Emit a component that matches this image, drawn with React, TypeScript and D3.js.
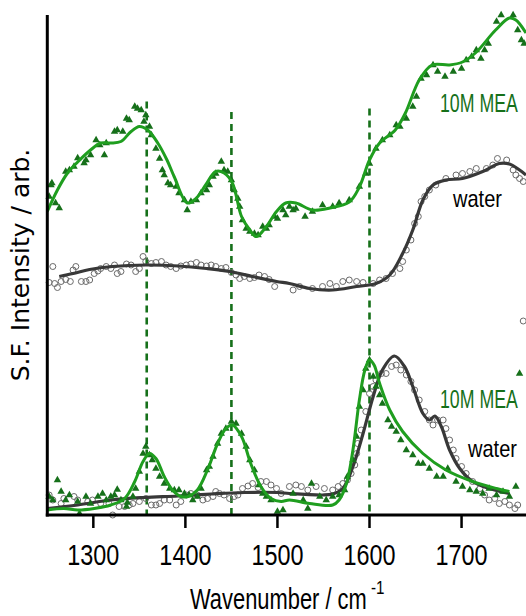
import React from 'react';
import * as d3 from 'd3';

// [wavenumber, intensity] — upper 10M MEA spectrum
const meaTopFit = [
  [1250, 60.7], [1261, 65], [1272, 68.4], [1283, 70.6], [1297, 73], [1308, 74.4], [1319, 74.4],
  [1330, 74.7], [1341, 76.7], [1350, 77.7], [1359, 77], [1370, 74.4], [1380, 71], [1388, 67.6],
  [1402, 62.4], [1412, 63.4], [1422, 66], [1433, 68.7], [1442, 68.4], [1451, 66.4], [1461, 59.7],
  [1470, 57], [1477, 55.7], [1488, 57.7], [1499, 60.7], [1509, 62.4], [1520, 62.4], [1538, 61],
  [1557, 61.4], [1578, 62.6], [1589, 65.6], [1600, 71], [1611, 74.4], [1628, 77], [1639, 80.4],
  [1654, 87], [1668, 90], [1687, 90], [1701, 90.6], [1715, 92.4], [1737, 97], [1752, 99.4],
  [1759, 99], [1770, 96.4],
];
const meaTopPts = [
  [1252, 63.7], [1254, 66], [1255, 66.4], [1259, 62.4], [1263, 61.4], [1270, 68.7], [1274, 69],
  [1279, 69.7], [1283, 71.4], [1290, 70.4], [1292, 71], [1297, 72], [1303, 75], [1307, 74],
  [1312, 72], [1314, 74.4], [1323, 76.7], [1326, 77], [1332, 76.7], [1336, 79.3], [1339, 79],
  [1345, 81.7], [1348, 81.3], [1352, 81], [1357, 80], [1355, 78.7], [1361, 77.7], [1363, 76],
  [1368, 73.3], [1372, 71.3], [1375, 69], [1377, 68], [1381, 66.4], [1384, 66], [1390, 65.7],
  [1393, 64.4], [1399, 63], [1402, 61], [1406, 62.7], [1412, 63], [1417, 64.4], [1423, 65],
  [1426, 66], [1430, 67.7], [1433, 68.3], [1439, 70.7], [1442, 69], [1446, 68.7], [1450, 67],
  [1453, 65], [1457, 63.3], [1459, 61.7], [1462, 59], [1466, 57.3], [1470, 56.7], [1475, 56.3],
  [1479, 56], [1484, 57.7], [1488, 57.3], [1491, 58], [1497, 59.7], [1500, 59.3], [1506, 61],
  [1509, 60], [1513, 61.7], [1517, 61], [1520, 61.3], [1530, 59.7], [1538, 60.7], [1549, 62],
  [1560, 61.7], [1567, 62.4], [1578, 63], [1589, 65.7], [1596, 68.3], [1600, 70.3], [1607, 73.3],
  [1614, 75], [1622, 76], [1629, 78], [1633, 77.7], [1640, 79.3], [1647, 81.7], [1651, 83.7],
  [1656, 87.3], [1662, 88], [1669, 90], [1674, 88.7], [1682, 87.7], [1691, 88.7], [1700, 89.3],
  [1705, 91], [1711, 91.7], [1716, 93], [1721, 91.3], [1725, 93], [1729, 94.3], [1738, 98.7],
  [1743, 100], [1756, 100], [1761, 97], [1765, 95], [1768, 94.3],
];

// upper water spectrum
const waterTopFit = [
  [1263, 47.7], [1278, 48.3], [1296, 49.1], [1321, 49.7], [1357, 50], [1393, 49.8], [1423, 49.3],
  [1448, 48.7], [1473, 47.7], [1499, 46.7], [1513, 46.3], [1535, 45.3], [1560, 45], [1586, 45.7],
  [1607, 46.3], [1622, 48], [1636, 52.3], [1647, 57], [1658, 63], [1669, 66], [1683, 67],
  [1701, 67.3], [1723, 68.7], [1741, 70.3], [1752, 70.2], [1763, 69], [1770, 68],
];
const waterTopPts = [
  [1252, 46.5], [1256, 49.7], [1258, 46.3], [1261, 45.5], [1265, 46.7], [1270, 47.1], [1275, 46.7],
  [1278, 49], [1281, 49.7], [1287, 46.7], [1292, 46.7], [1296, 47], [1301, 48.3], [1305, 48.8],
  [1308, 49.3], [1314, 49.7], [1319, 49.3], [1323, 50], [1326, 48.3], [1330, 48.7], [1336, 50.2],
  [1341, 50], [1346, 48.7], [1350, 49.3], [1354, 51.7], [1357, 50.7], [1363, 50.3], [1368, 50.5],
  [1374, 50.7], [1379, 50], [1384, 49.7], [1390, 49.3], [1395, 49.8], [1401, 50], [1406, 50.2],
  [1412, 50.5], [1417, 50], [1423, 49.8], [1428, 50], [1433, 49.7], [1439, 49.3], [1444, 49.5],
  [1450, 48.5], [1455, 48], [1459, 47.3], [1464, 47.7], [1470, 47.3], [1475, 47.5], [1480, 48],
  [1486, 47.7], [1491, 47.1], [1497, 45.7], [1517, 45], [1524, 45.7], [1538, 45.3], [1549, 45.7],
  [1557, 46.3], [1564, 45.7], [1571, 46.7], [1578, 47], [1586, 46.7], [1593, 46.5], [1604, 46.3],
  [1611, 47], [1618, 47.3], [1625, 48.3], [1633, 49.3], [1636, 50.7], [1640, 53], [1645, 55],
  [1649, 58.3], [1653, 59.7], [1656, 62.7], [1660, 63.7], [1665, 65], [1672, 66], [1683, 67.3],
  [1694, 68], [1701, 68.3], [1709, 68.7], [1716, 69.3], [1727, 69.3], [1734, 70], [1739, 71.3],
  [1749, 71], [1756, 69], [1759, 68], [1763, 67.3], [1767, 66.7], [1767, 38.8],
];

// lower 10M MEA spectrum
const meaBotFit = [
  [1250, 1], [1268, 1.3], [1283, 1], [1301, 1.3], [1319, 2], [1334, 3.3], [1345, 6.7], [1354, 10.7],
  [1361, 12.3], [1368, 11.3], [1377, 7.7], [1386, 5], [1395, 3.7], [1403, 3.7], [1413, 5], [1424, 9],
  [1435, 14.3], [1444, 17.3], [1451, 18], [1461, 15.7], [1471, 10.3], [1482, 5.7], [1493, 3.3],
  [1504, 2.7], [1513, 3], [1535, 2.3], [1560, 2], [1567, 3], [1575, 6.3], [1582, 13], [1589, 23],
  [1595, 29], [1600, 31], [1605, 30], [1611, 26.3], [1622, 21], [1636, 16.7], [1658, 12.3],
  [1683, 9], [1712, 6.7], [1738, 5.3], [1752, 4.7],
];
const meaBotPts = [
  [1252, 3.7], [1256, 3], [1261, 7], [1265, 4.7], [1270, 3], [1274, 4], [1283, 2.7], [1285, 0.3],
  [1292, 3.7], [1297, 2.3], [1305, 3.7], [1310, 4.3], [1314, 3], [1319, 3.7], [1323, 4], [1326, 5.1],
  [1330, 3], [1336, 1.7], [1337, 2.5], [1343, 3.7], [1346, 5.3], [1350, 8.7], [1354, 12.3],
  [1357, 13.7], [1361, 12], [1364, 11], [1368, 9.3], [1372, 7.7], [1377, 6.3], [1383, 5.3],
  [1388, 5], [1393, 5], [1399, 4.3], [1404, 4], [1408, 3], [1413, 3.7], [1417, 5.3], [1423, 9],
  [1426, 9.7], [1430, 11.7], [1435, 14.3], [1439, 16.3], [1444, 17.3], [1450, 18.7], [1455, 18.3],
  [1461, 16.3], [1466, 13.7], [1470, 11], [1475, 9], [1480, 6], [1484, 4.3], [1488, 3.7], [1493, 3],
  [1500, 0.7], [1506, 1], [1517, 4.3], [1528, 3], [1533, 1.3], [1537, 6.3], [1546, 3.7], [1553, 3],
  [1560, 3.7], [1567, 4], [1573, 5], [1576, 7.7], [1582, 11], [1586, 15.7], [1589, 21.7],
  [1593, 25], [1596, 29.3], [1600, 31], [1604, 27.7], [1607, 25.7], [1611, 24], [1614, 22.3],
  [1620, 19], [1624, 17.7], [1629, 16.7], [1634, 15], [1640, 13], [1647, 12], [1653, 10.3],
  [1658, 10.3], [1665, 9.3], [1673, 7.7], [1680, 7.7], [1685, 9.3], [1694, 6.7], [1701, 5.7],
  [1709, 5], [1716, 4.7], [1723, 4.3], [1730, 5.3], [1738, 4], [1745, 4.7], [1752, 3.7],
  [1759, 5.7], [1763, 28.3],
];

// lower water spectrum
const waterBotFit = [
  [1250, 1.3], [1283, 2], [1319, 3], [1355, 3.5], [1392, 3.8], [1428, 4.2], [1464, 4.5], [1500, 4.5],
  [1513, 4.3], [1549, 4], [1560, 4.2], [1571, 5.3], [1582, 9.7], [1593, 16.3], [1604, 23.7],
  [1614, 29], [1627, 31.8], [1638, 29.7], [1647, 25.7], [1658, 20.3], [1665, 19], [1671, 19.8],
  [1678, 17.7], [1687, 13], [1698, 9.3], [1712, 6.7], [1730, 5.3], [1752, 4.3],
];
const waterBotPts = [
  [1252, 4], [1256, 3], [1265, 2.3], [1268, 3.3], [1279, 3.7], [1283, 3], [1294, 2.7], [1299, 3],
  [1308, 2.3], [1317, 2.3], [1321, 0], [1328, 1.7], [1334, 1.7], [1339, 2], [1343, 2.3], [1350, 2.7],
  [1357, 3.3], [1363, 2], [1368, 2], [1372, 2.3], [1377, 3], [1383, 3], [1390, 2], [1395, 2.7],
  [1401, 4], [1406, 4.3], [1413, 4], [1419, 3], [1424, 3.3], [1430, 3.7], [1433, 4.7], [1437, 4.3],
  [1442, 4], [1448, 3.3], [1453, 3.7], [1457, 4], [1462, 5.3], [1468, 5.8], [1473, 6.3], [1479, 5.5],
  [1482, 6.7], [1488, 6.7], [1493, 6], [1499, 5.3], [1504, 4.3], [1513, 5.7], [1520, 6], [1526, 5.7],
  [1533, 5], [1542, 5.7], [1551, 5.3], [1560, 5], [1566, 5.7], [1571, 6.3], [1576, 7], [1580, 8.3],
  [1584, 10], [1586, 12.3], [1587, 14.3], [1591, 17], [1596, 20.7], [1600, 24.3], [1604, 25.7],
  [1607, 27], [1613, 28.3], [1618, 28.3], [1624, 29.7], [1629, 30], [1634, 29], [1640, 28],
  [1645, 26.7], [1649, 25], [1654, 23], [1660, 20.7], [1665, 19], [1669, 18], [1674, 19], [1680, 19],
  [1683, 17.3], [1687, 15], [1691, 13], [1694, 11.3], [1700, 9.7], [1705, 8.3], [1712, 6.7],
  [1720, 5.3], [1725, 4], [1730, 3], [1736, 3.3], [1741, 2.3], [1747, 2.7], [1752, 2], [1758, 1.3],
  [1761, 2],
];

const xTicks = [1300, 1400, 1500, 1600, 1700];
const markerLines = [1358, 1450, 1600];
const markerTops = [82.7, 80.6, 81.3];

const W = 526;
const H = 616;
const GREEN_LINE = '#1f9e1f';
const GREEN_DARK = '#16701a';
const BLACK_LINE = '#383838';

// condensed text: horizontal squeeze around the anchor point
const Narrow = ({ x, y, sx, size, fill = '#000', anchor = 'start', children }: any) => (
  <text transform={`translate(${x},${y}) scale(${sx},1)`} fontSize={size} fill={fill}
    textAnchor={anchor}>{children}</text>
);

export default function App() {
  const x = d3.scaleLinear().domain([1250, 1770]).range([47.3, 526]);
  const y = d3.scaleLinear().domain([0, 100]).range([515, 15]);

  const line = d3.line<number[]>()
    .x(d => x(d[0]))
    .y(d => y(d[1]))
    .curve(d3.curveCatmullRom.alpha(0.5));

  const tri = d3.symbol().type(d3.symbolTriangle).size(24)();

  return (
    <svg width={W} height={H} style={{ position: 'absolute', left: 0, top: 0, background: '#fff' }}
      fontFamily="'Liberation Sans', Arial, sans-serif">
      {/* dashed guide lines */}
      {markerLines.map((v, i) => (
        <line key={v} x1={x(v)} x2={x(v)} y1={y(markerTops[i])} y2={y(0)}
          stroke={GREEN_DARK} strokeWidth={2.6} strokeDasharray="7,5" />
      ))}

      {/* water data (open circles) */}
      {[...waterTopPts, ...waterBotPts].map((d, i) => (
        <circle key={'w' + i} cx={x(d[0])} cy={y(d[1])} r={3}
          fill="none" stroke="#6a6a6a" strokeWidth={1} />
      ))}
      <path d={line(waterTopFit) || ''} fill="none" stroke={BLACK_LINE} strokeWidth={3.2} />
      <path d={line(waterBotFit) || ''} fill="none" stroke={BLACK_LINE} strokeWidth={3.2} />

      {/* MEA data (triangles) */}
      {[...meaTopPts, ...meaBotPts].map((d, i) => (
        <path key={'m' + i} d={tri || ''} transform={`translate(${x(d[0])},${y(d[1])})`}
          fill={GREEN_DARK} />
      ))}
      <path d={line(meaTopFit) || ''} fill="none" stroke={GREEN_LINE} strokeWidth={3} />
      <path d={line(meaBotFit) || ''} fill="none" stroke={GREEN_LINE} strokeWidth={3} />

      {/* axes */}
      <line x1={x(1250)} x2={x(1250)} y1={15} y2={y(0) + 1.5} stroke="#000" strokeWidth={3} />
      <line x1={x(1250) - 1.5} x2={W} y1={y(0)} y2={y(0)} stroke="#000" strokeWidth={3} />
      {xTicks.map(t => (
        <g key={t}>
          <line x1={x(t)} x2={x(t)} y1={y(0)} y2={y(0) + 13} stroke="#000" strokeWidth={2.5} />
          <Narrow x={x(t)} y={565} sx={0.78} size={30} anchor="middle">{t}</Narrow>
        </g>
      ))}

      {/* series labels */}
      <Narrow x={440} y={112} sx={0.71} size={25} fill={GREEN_DARK}>10M MEA</Narrow>
      <Narrow x={453} y={207} sx={0.835} size={24}>water</Narrow>
      <Narrow x={440} y={408} sx={0.71} size={25} fill={GREEN_DARK}>10M MEA</Narrow>
      <Narrow x={468} y={457} sx={0.835} size={24}>water</Narrow>

      {/* axis titles */}
      <Narrow x={190} y={609} sx={0.73} size={30}>Wavenumber / cm</Narrow>
      <Narrow x={371} y={594} sx={0.8} size={19}>-1</Narrow>
      <text transform="translate(29,265) rotate(-90)" textAnchor="middle" fontSize={25}
        fontFamily="'DejaVu Sans', Verdana, sans-serif">S.F. Intensity / arb.</text>
    </svg>
  );
}
